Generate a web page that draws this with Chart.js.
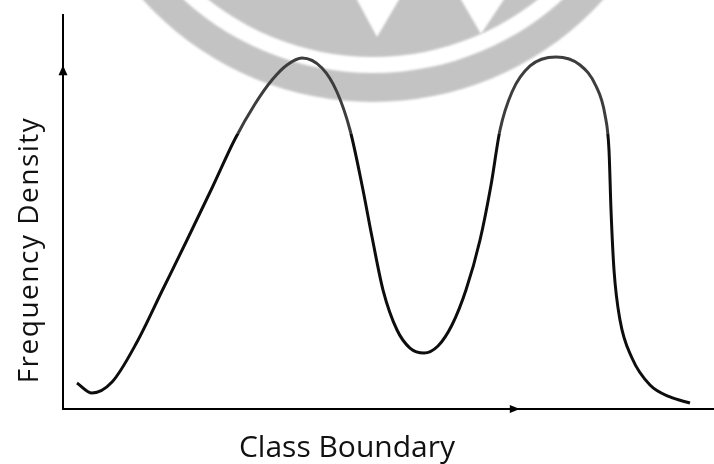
<!DOCTYPE html>
<html>
<head>
<meta charset="utf-8">
<title>Frequency Density</title>
<script src="https://cdn.jsdelivr.net/npm/chart.js@4.4.1/dist/chart.umd.min.js"></script>
<style>
  html, body { margin: 0; padding: 0; background: #ffffff; }
  #wrap { width: 714px; height: 464px; }
</style>
</head>
<body>
<div id="wrap"><canvas id="chart" width="714" height="464"></canvas></div>
<script>
// Bimodal frequency curve (arbitrary units, 0–100 on both axes)
const classBoundary = [
  2.15, 4.45, 7.53, 11.37, 15.21, 19.05, 22.89, 26.42, 29.49, 32.10, 34.41,
  36.71, 39.78, 42.09, 44.09, 45.93, 47.47, 49.16, 51.31, 53.30, 55.45,
  57.60, 59.75, 61.90, 64.06, 65.75, 67.13, 68.97, 71.74, 75.73, 79.42,
  81.87, 83.26, 83.87, 84.18, 84.64, 85.56, 87.40, 90.17, 93.24, 96.31
];
const frequencyDensity = [
  6.60, 4.06, 6.85, 17.01, 29.95, 42.89, 56.09, 68.53, 77.41, 83.50, 87.31,
  89.09, 86.55, 80.46, 70.81, 56.85, 43.65, 30.20, 20.05, 15.48, 14.21,
  15.99, 21.32, 30.20, 42.89, 56.85, 70.81, 80.46, 87.06, 89.34, 87.31,
  81.98, 74.62, 65.74, 50.51, 35.28, 22.59, 12.94, 6.09, 3.05, 1.52
];

// Axis titles and arrow positions along each axis
const xTitle = 'Class Boundary';
const yTitle = 'Frequency Density';
const xArrowAt = 69.4;
const yArrowAt = 86.0;

const points = classBoundary.map((x, i) => ({ x: x, y: frequencyDensity[i] }));

// Faint round emblem behind the plot, under a light white veil
const emblem = {
  id: 'emblem',
  beforeDatasetsDraw(chart) {
    const ctx = chart.ctx;
    const cx = 373, cy = -208;
    ctx.save();
    ctx.filter = 'blur(1px)';
    ctx.fillStyle = '#b5b5b5';
    // outer ring
    ctx.beginPath();
    ctx.arc(cx, cy, 310, 0, Math.PI * 2);
    ctx.arc(cx, cy, 281, 0, Math.PI * 2, true);
    ctx.fill('evenodd');
    // inner disc
    ctx.beginPath();
    ctx.arc(cx, cy, 265, 0, Math.PI * 2);
    ctx.fill();
    // white notches of the letter
    ctx.fillStyle = '#ffffff';
    ctx.beginPath();
    ctx.moveTo(356, -2); ctx.lineTo(400, -2); ctx.lineTo(377, 37); ctx.closePath();
    ctx.fill();
    ctx.beginPath();
    ctx.moveTo(460, -2); ctx.lineTo(505, -2); ctx.lineTo(481, 34); ctx.closePath();
    ctx.fill();
    ctx.restore();
  },
  afterDatasetsDraw(chart) {
    const ctx = chart.ctx;
    ctx.save();
    ctx.fillStyle = 'rgba(255,255,255,0.2)';
    ctx.fillRect(135, 0, 490, 134);
    ctx.restore();
  }
};

// Arrowheads on the axes and the axis titles
const axisDecor = {
  id: 'axisDecor',
  afterDraw(chart) {
    const ctx = chart.ctx;
    const xs = chart.scales.x, ys = chart.scales.y;
    const area = chart.chartArea;
    ctx.save();
    ctx.fillStyle = '#000000';
    // arrow on x axis, pointing right
    const ax = xs.getPixelForValue(xArrowAt), ay = area.bottom;
    ctx.beginPath();
    ctx.moveTo(ax + 5, ay);
    ctx.lineTo(ax - 5, ay - 4);
    ctx.lineTo(ax - 5, ay + 4);
    ctx.closePath();
    ctx.fill();
    // arrow on y axis, pointing up
    const bx = area.left, by = ys.getPixelForValue(yArrowAt);
    ctx.beginPath();
    ctx.moveTo(bx, by - 5);
    ctx.lineTo(bx - 4.5, by + 5);
    ctx.lineTo(bx + 4.5, by + 5);
    ctx.closePath();
    ctx.fill();

    // titles
    ctx.fillStyle = '#111111';
    ctx.textBaseline = 'alphabetic';
    ctx.textAlign = 'center';
    ctx.font = '30px "Open Sans", sans-serif';
    ctx.fillText(xTitle, 347, 457);

    ctx.translate(38, 250);
    ctx.rotate(-Math.PI / 2);
    ctx.font = '28px "Open Sans", sans-serif';
    ctx.letterSpacing = '1.5px';
    ctx.fillText(yTitle, 0, 0);
    ctx.restore();
  }
};

new Chart(document.getElementById('chart'), {
  type: 'line',
  data: {
    datasets: [{
      data: points,
      borderColor: '#0d0d0d',
      borderWidth: 3,
      pointRadius: 0,
      fill: false,
      cubicInterpolationMode: 'monotone'
    }]
  },
  options: {
    responsive: false,
    animation: false,
    layout: { padding: { left: 63, top: 15, right: 0, bottom: 55 } },
    plugins: {
      legend: { display: false },
      tooltip: { enabled: false },
      title: { display: false }
    },
    scales: {
      x: {
        type: 'linear',
        min: 0,
        max: 100,
        grid: { display: false, drawTicks: false },
        ticks: { display: false },
        border: { display: true, color: '#000000', width: 2 }
      },
      y: {
        type: 'linear',
        min: 0,
        max: 100,
        grid: { display: false, drawTicks: false },
        ticks: { display: false },
        border: { display: true, color: '#000000', width: 2 }
      }
    }
  },
  plugins: [emblem, axisDecor]
});
</script>
</body>
</html>
